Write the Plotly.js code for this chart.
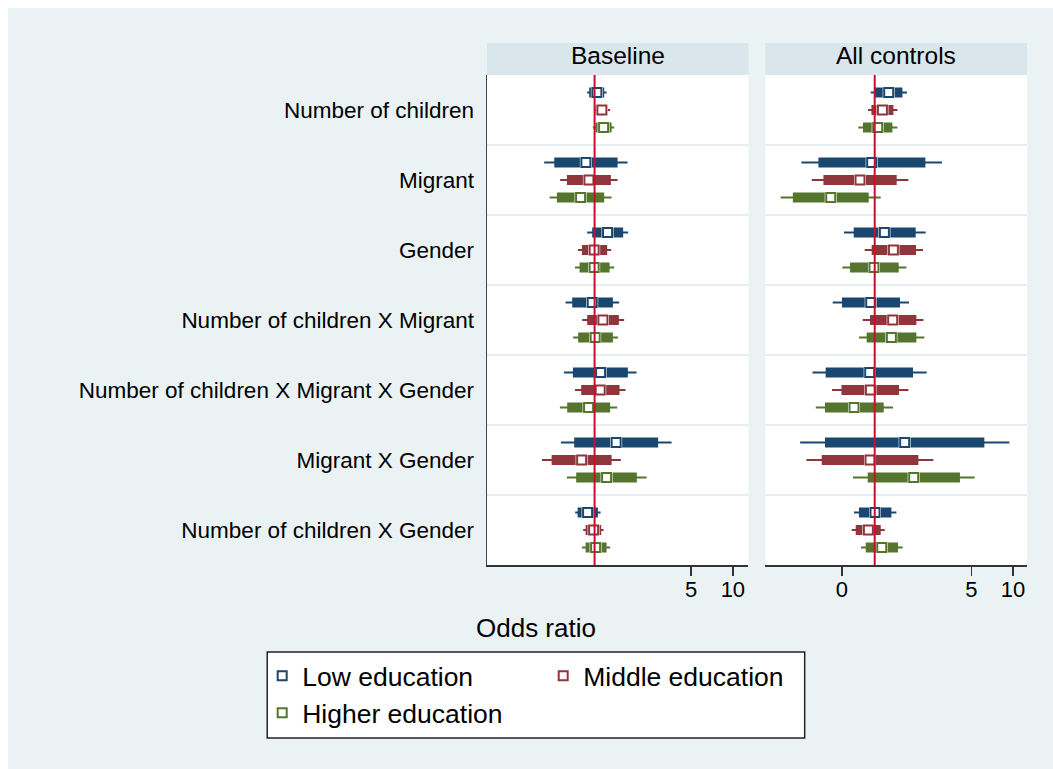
<!DOCTYPE html>
<html>
<head>
<meta charset="utf-8">
<script src="https://cdn.plot.ly/plotly-3.0.1.min.js"></script>
<style>
  html, body { margin: 0; padding: 0; background: #ffffff; }
  #chart { position: absolute; left: 8px; top: 8px; width: 1045px; height: 761px; }
</style>
</head>
<body>
<div id="chart"></div>
<script>
// Categories (top to bottom)
const categories = [
  "Number of children",
  "Migrant",
  "Gender",
  "Number of children X Migrant",
  "Number of children X Migrant X Gender",
  "Migrant X Gender",
  "Number of children X Gender"
];
const seriesNames = ["Low education", "Middle education", "Higher education"];
const panelNames = ["Baseline", "All controls"];

// ---- Baseline panel: odds ratios, outer CI (thin) and inner CI (thick)
const baseLowEst   = [1.039, 0.865, 1.241, 0.961, 1.105, 1.432, 0.890];
const baseLowLo95  = [0.884, 0.432, 0.884, 0.617, 0.600, 0.571, 0.724];
const baseLowHi95  = [1.221, 1.732, 1.749, 1.506, 2.011, 3.601, 1.105];
const baseLowLo90  = [0.914, 0.511, 0.961, 0.689, 0.697, 0.712, 0.754];
const baseLowHi90  = [1.173, 1.466, 1.609, 1.356, 1.740, 2.881, 1.056];

const baseMidEst   = [1.129, 0.910, 0.993, 1.148, 1.098, 0.806, 0.984];
const baseMidLo95  = [0.993, 0.564, 0.757, 0.814, 0.721, 0.416, 0.827];
const baseMidHi95  = [1.296, 1.466, 1.318, 1.636, 1.675, 1.549, 1.162];
const baseMidLo90  = [1.017, 0.631, 0.810, 0.884, 0.800, 0.489, 0.861];
const baseMidHi90  = [1.241, 1.312, 1.233, 1.498, 1.516, 1.327, 1.116];

const baseHighEst  = [1.162, 0.792, 0.993, 1.010, 0.905, 1.221, 1.017];
const baseHighLo95 = [0.972, 0.473, 0.721, 0.700, 0.561, 0.631, 0.810];
const baseHighHi95 = [1.386, 1.327, 1.386, 1.474, 1.457, 2.375, 1.296];
const baseHighLo90 = [1.017, 0.534, 0.779, 0.761, 0.634, 0.736, 0.861];
const baseHighHi90 = [1.327, 1.173, 1.284, 1.356, 1.296, 2.021, 1.221];

// ---- All controls panel
const ctrlLowEst   = [1.262, 0.951, 1.175, 0.936, 0.920, 1.647, 1.005];
const ctrlLowLo95  = [0.936, 0.295, 0.600, 0.497, 0.355, 0.289, 0.709];
const ctrlLowHi95  = [1.712, 3.064, 2.336, 1.770, 2.375, 9.405, 1.435];
const ctrlLowLo90  = [1.005, 0.392, 0.705, 0.580, 0.442, 0.437, 0.770];
const ctrlLowHi90  = [1.586, 2.325, 1.978, 1.523, 1.891, 6.205, 1.320];

const ctrlMidEst   = [1.137, 0.783, 1.365, 1.349, 0.931, 0.925, 0.900];
const ctrlMidLo95  = [0.894, 0.351, 0.847, 0.819, 0.491, 0.321, 0.682];
const ctrlMidHi95  = [1.459, 1.752, 2.234, 2.249, 1.752, 2.656, 1.181];
const ctrlMidLo90  = [0.947, 0.426, 0.951, 0.925, 0.575, 0.414, 0.729];
const ctrlMidHi90  = [1.365, 1.442, 1.988, 2.001, 1.498, 2.069, 1.105];

const ctrlHighEst  = [1.051, 0.481, 0.988, 1.320, 0.709, 1.913, 1.124];
const ctrlHighLo95 = [0.762, 0.209, 0.584, 0.770, 0.375, 0.697, 0.796];
const ctrlHighHi95 = [1.459, 1.105, 1.695, 2.286, 1.356, 5.280, 1.593];
const ctrlHighLo90 = [0.823, 0.256, 0.663, 0.875, 0.437, 0.890, 0.861];
const ctrlHighHi90 = [1.342, 0.905, 1.491, 2.001, 1.162, 4.134, 1.474];

// Tick labels
const leftTickVals = [5, 10];
const leftTickText = ["5", "10"];
const rightTickVals = [0.58, 5, 10];
const rightTickText = ["0", "5", "10"];

const colors = ["#1a476f", "#90353b", "#55752f"];
const rowOffsets = [-0.25, 0, 0.25];
const legendIds = ["legend", "legend", "legend2"];

const panels = [
  { xaxis: "x",  series: [
      [baseLowEst, baseLowLo95, baseLowHi95, baseLowLo90, baseLowHi90],
      [baseMidEst, baseMidLo95, baseMidHi95, baseMidLo90, baseMidHi90],
      [baseHighEst, baseHighLo95, baseHighHi95, baseHighLo90, baseHighHi90]] },
  { xaxis: "x2", series: [
      [ctrlLowEst, ctrlLowLo95, ctrlLowHi95, ctrlLowLo90, ctrlLowHi90],
      [ctrlMidEst, ctrlMidLo95, ctrlMidHi95, ctrlMidLo90, ctrlMidHi90],
      [ctrlHighEst, ctrlHighLo95, ctrlHighHi95, ctrlHighLo90, ctrlHighHi90]] }
];

function segs(lo, hi, off) {
  const x = [], y = [];
  categories.forEach((c, i) => {
    x.push(lo[i], hi[i], null);
    y.push(i + off, i + off, null);
  });
  return { x, y };
}

const traces = [];
panels.forEach((p, pi) => {
  p.series.forEach((s, si) => {
    const [est, lo95, hi95, lo90, hi90] = s;
    const off = rowOffsets[si];
    const thin = segs(lo95, hi95, off);
    const thick = segs(lo90, hi90, off);
    const ys = categories.map((c, i) => i + off);
    traces.push({ type: "scatter", mode: "lines", x: thin.x, y: thin.y,
      xaxis: p.xaxis, yaxis: "y", line: { color: colors[si], width: 2 },
      showlegend: false, hoverinfo: "skip" });
    traces.push({ type: "scatter", mode: "lines", x: thick.x, y: thick.y,
      xaxis: p.xaxis, yaxis: "y", line: { color: colors[si], width: 10 },
      showlegend: false, hoverinfo: "skip" });
    traces.push({ type: "scatter", mode: "markers", x: est, y: ys,
      xaxis: p.xaxis, yaxis: "y",
      marker: { symbol: "square", size: 12, color: "#ffffff", line: { width: 0 } },
      showlegend: false, hoverinfo: "skip" });
  });
});
// estimate markers last (on top), legend entries from the Baseline panel
panels.forEach((p, pi) => {
  p.series.forEach((s, si) => {
    const est = s[0];
    const ys = categories.map((c, i) => i + rowOffsets[si]);
    const t = { type: "scatter", mode: "markers", name: seriesNames[si], x: est, y: ys,
      xaxis: p.xaxis, yaxis: "y",
      marker: { symbol: "square", size: 9, color: "#ffffff", line: { color: colors[si], width: 2 } },
      showlegend: pi === 0 };
    if (pi === 0) t.legend = legendIds[si];
    traces.push(t);
  });
});

const shapes = [];
["x", "x2"].forEach(ax => {
  for (let k = 0; k < categories.length - 1; k++) {
    shapes.push({ type: "line", xref: ax + " domain", yref: "y", x0: 0, x1: 1,
      y0: k + 0.5, y1: k + 0.5, line: { color: "#e7eef1", width: 2 }, layer: "below" });
  }
  shapes.push({ type: "line", xref: ax, yref: "paper", x0: 1, x1: 1, y0: 0, y1: 1,
    line: { color: "#c8102e", width: 2 }, layer: "above" });
  shapes.push({ type: "rect", xref: ax + " domain", yref: "paper", x0: 0, x1: 1,
    y0: 1, y1: 1 + 32 / 490, fillcolor: "#d9e6eb", line: { width: 0 }, layer: "above" });
});
// legend frame
shapes.push({ type: "rect", xref: "paper", yref: "paper", x0: -0.407, x1: 0.5883,
  y0: -0.3531, y1: -0.1776, fillcolor: "#ffffff", line: { color: "#222222", width: 1.5 }, layer: "below" });

const annotations = [
  { xref: "x domain", yref: "paper", x: 0.5, y: 1 + 19 / 490, text: panelNames[0],
    showarrow: false, font: { size: 24.5, color: "#000" }, yanchor: "middle" },
  { xref: "x2 domain", yref: "paper", x: 0.5, y: 1 + 19 / 490, text: panelNames[1],
    showarrow: false, font: { size: 24.5, color: "#000" }, yanchor: "middle" },
  { xref: "paper", yref: "paper", x: 0.0907, y: -0.1286, text: "Odds ratio",
    showarrow: false, font: { size: 26, color: "#000" }, xanchor: "center", yanchor: "middle" }
];

const xCommon = {
  type: "log", showgrid: false, zeroline: false, showline: true,
  linecolor: "#333333", linewidth: 1.5, ticks: "outside", ticklen: 9,
  tickwidth: 1.5, tickcolor: "#333333", tickfont: { size: 22, color: "#000" },
  ticklabelstandoff: -5, anchor: "y", mirror: false
};

const legendCommon = {
  orientation: "h", x: -0.4163, xanchor: "left", yanchor: "top",
  bgcolor: "rgba(0,0,0,0)", borderwidth: 0,
  font: { size: 26.5, color: "#000" }, entrywidthmode: "pixels", entrywidth: 236,
  traceorder: "normal"
};

const layout = {
  width: 1045, height: 761,
  paper_bgcolor: "#eaf2f3", plot_bgcolor: "#ffffff",
  font: { family: "Liberation Sans, Arial, sans-serif", color: "#000" },
  margin: { l: 479, r: 25.5, t: 67, b: 204 },
  showlegend: true,
  xaxis: Object.assign({}, xCommon, { domain: [0, 0.484], range: [-0.778, 1.112],
    tickmode: "array", tickvals: leftTickVals, ticktext: leftTickText }),
  xaxis2: Object.assign({}, xCommon, { domain: [0.5156, 1], range: [-0.790, 1.101],
    tickmode: "array", tickvals: rightTickVals, ticktext: rightTickText }),
  yaxis: {
    range: [categories.length - 0.5, -0.5], tickmode: "array",
    tickvals: categories.map((c, i) => i), ticktext: categories,
    showgrid: false, zeroline: false, showline: true, linecolor: "#444444", linewidth: 1.5,
    ticks: "", ticklabelstandoff: 7, tickfont: { size: 22.5, color: "#000" }, anchor: "x"
  },
  legend: Object.assign({}, legendCommon, { y: -0.1776 }),
  legend2: Object.assign({}, legendCommon, { y: -0.2531 }),
  shapes: shapes,
  annotations: annotations
};

Plotly.newPlot("chart", traces, layout, { displayModeBar: false, staticPlot: true });
</script>
</body>
</html>
